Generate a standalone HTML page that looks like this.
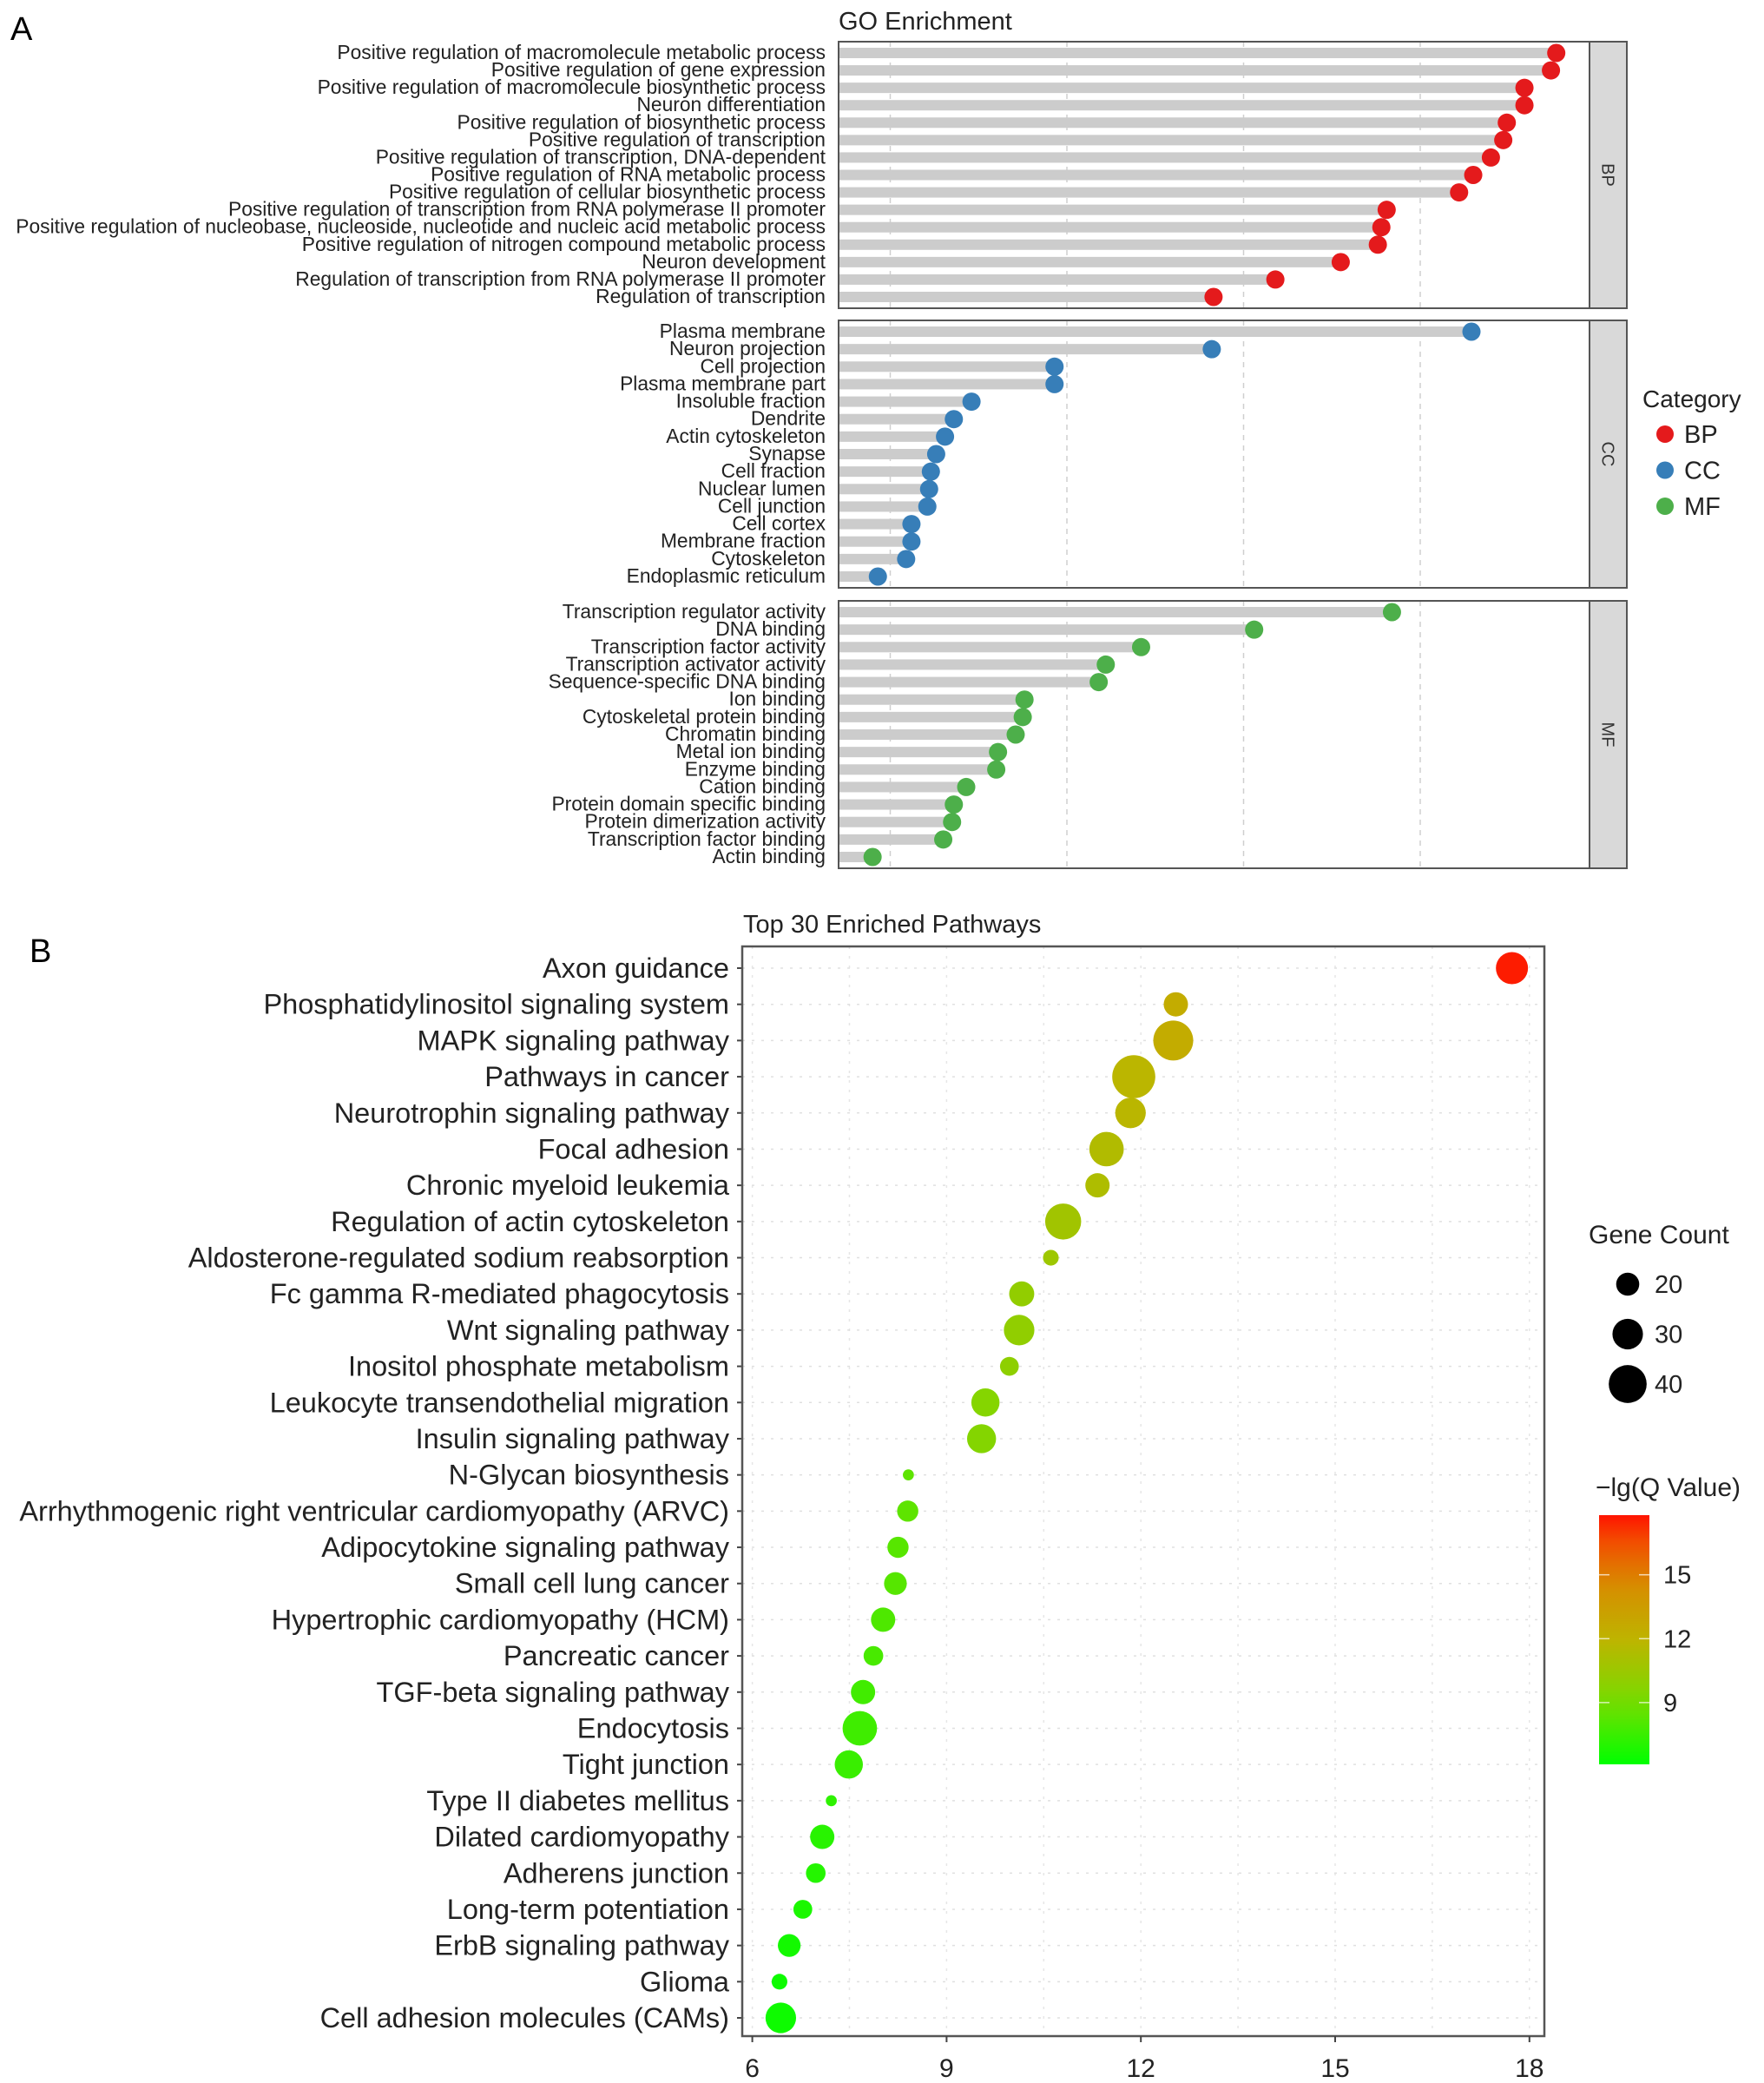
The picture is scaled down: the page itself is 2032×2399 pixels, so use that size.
<!DOCTYPE html>
<html><head><meta charset="utf-8"><style>
html,body{margin:0;padding:0;background:#fff;}
svg{display:block;font-family:"Liberation Sans",Arial,sans-serif;}
</style></head><body>
<svg id="fig" width="2032" height="2399" viewBox="0 0 2032 2399" xmlns="http://www.w3.org/2000/svg">
<text x="12" y="46" font-size="38">A</text>
<text x="966" y="34" font-size="29" fill="#222">GO Enrichment</text>
<text x="34" y="1108" font-size="38">B</text>
<text x="856" y="1074" font-size="29" fill="#222">Top 30 Enriched Pathways</text>
<g id="ga"></g>
<g id="gb"></g>
</svg>
<script>
// ---- Panel A data ----
const bpTerms=["Positive regulation of macromolecule metabolic process","Positive regulation of gene expression","Positive regulation of macromolecule biosynthetic process","Neuron differentiation","Positive regulation of biosynthetic process","Positive regulation of transcription","Positive regulation of transcription, DNA-dependent","Positive regulation of RNA metabolic process","Positive regulation of cellular biosynthetic process","Positive regulation of transcription from RNA polymerase II promoter","Positive regulation of nucleobase, nucleoside, nucleotide and nucleic acid metabolic process","Positive regulation of nitrogen compound metabolic process","Neuron development","Regulation of transcription from RNA polymerase II promoter","Regulation of transcription"];
const bpValues=[47.7,47.4,45.9,45.9,44.9,44.7,44.0,43.0,42.2,38.1,37.8,37.6,35.5,31.8,28.3];
const ccTerms=["Plasma membrane","Neuron projection","Cell projection","Plasma membrane part","Insoluble fraction","Dendrite","Actin cytoskeleton","Synapse","Cell fraction","Nuclear lumen","Cell junction","Cell cortex","Membrane fraction","Cytoskeleton","Endoplasmic reticulum"];
const ccValues=[42.9,28.2,19.3,19.3,14.6,13.6,13.1,12.6,12.3,12.2,12.1,11.2,11.2,10.9,9.3];
const mfTerms=["Transcription regulator activity","DNA binding","Transcription factor activity","Transcription activator activity","Sequence-specific DNA binding","Ion binding","Cytoskeletal protein binding","Chromatin binding","Metal ion binding","Enzyme binding","Cation binding","Protein domain specific binding","Protein dimerization activity","Transcription factor binding","Actin binding"];
const mfValues=[38.4,30.6,24.2,22.2,21.8,17.6,17.5,17.1,16.1,16.0,14.3,13.6,13.5,13.0,9.0];
const gridA=[10,20,30,40];
const catNames=["BP","CC","MF"];
const catColors=["#e41a1c","#377eb8","#4daf4a"];

// ---- Panel B data ----
const pathways=["Axon guidance","Phosphatidylinositol signaling system","MAPK signaling pathway","Pathways in cancer","Neurotrophin signaling pathway","Focal adhesion","Chronic myeloid leukemia","Regulation of actin cytoskeleton","Aldosterone-regulated sodium reabsorption","Fc gamma R-mediated phagocytosis","Wnt signaling pathway","Inositol phosphate metabolism","Leukocyte transendothelial migration","Insulin signaling pathway","N-Glycan biosynthesis","Arrhythmogenic right ventricular cardiomyopathy (ARVC)","Adipocytokine signaling pathway","Small cell lung cancer","Hypertrophic cardiomyopathy (HCM)","Pancreatic cancer","TGF-beta signaling pathway","Endocytosis","Tight junction","Type II diabetes mellitus","Dilated cardiomyopathy","Adherens junction","Long-term potentiation","ErbB signaling pathway","Glioma","Cell adhesion molecules (CAMs)"];
const enrichValues=[17.73,12.54,12.50,11.89,11.84,11.47,11.33,10.80,10.61,10.16,10.12,9.97,9.60,9.54,8.41,8.40,8.25,8.21,8.02,7.87,7.71,7.66,7.49,7.22,7.08,6.98,6.78,6.57,6.42,6.44];
const geneCounts=[30,20,40,44,28,33,20,35,9,21,28,13,25,26,3,16,16,18,20,14,20,33,25,3,20,14,13,18,9,28];
const qValues=[17.62,12.48,12.44,11.83,11.79,11.42,11.28,10.75,10.57,10.12,10.08,9.94,9.57,9.51,8.39,8.38,8.23,8.19,8.00,7.85,7.69,7.64,7.48,7.21,7.07,6.97,6.77,6.56,6.42,6.44];
const xTicksB=[6,9,12,15,18];
const sizeLegend=[20,30,40];
const colorTicks=[9,12,15];

const NS="http://www.w3.org/2000/svg";
function mk(parent,tag,attrs){const e=document.createElementNS(NS,tag);for(const k in attrs)e.setAttribute(k,attrs[k]);parent.appendChild(e);return e;}

// ---- Panel A ----
const ga=document.getElementById('ga');
const xA=v=>822+v*20.35;
const aLeft=966,aRight=1831,stripR=1874;
const panels=[{top:48,bot:355,terms:bpTerms,vals:bpValues},{top:369,bot:677,terms:ccTerms,vals:ccValues},{top:692,bot:1000,terms:mfTerms,vals:mfValues}];
panels.forEach((p,pi)=>{
  const g=mk(ga,'g',{});
  
  
  const bg=mk(g,'rect',{x:aLeft,y:p.top,width:aRight-aLeft,height:p.bot-p.top,fill:'#fff'});
  
  
  gridA.forEach(v=>{
    const l=mk(g,'line',{x1:xA(v),x2:xA(v),y1:p.top,y2:p.bot,stroke:'#cfcfcf','stroke-width':1.5,'stroke-dasharray':'6,6'});
    
    
  });
  const n=p.terms.length;
  const y0=p.top+13, step=(p.bot-p.top-26)/(n-1);
  p.terms.forEach((t,i)=>{
    const y=y0+i*step;
    const bar=mk(g,'rect',{x:aLeft,y:y-6,width:xA(p.vals[i])-aLeft,height:12,fill:'#cccccc'});
    
    
    const c=mk(g,'circle',{cx:xA(p.vals[i]),cy:y,r:10.5,fill:catColors[pi]});
    
    
    const tx=mk(g,'text',{x:951,y:y+7,'font-size':22.8,'text-anchor':'end',fill:'#222'});
    tx.textContent=t;
    
    
  });
  const fr=mk(g,'rect',{x:aLeft,y:p.top,width:aRight-aLeft,height:p.bot-p.top,fill:'none',stroke:'#555','stroke-width':2});
  
  
  const st=mk(g,'rect',{x:aRight,y:p.top,width:stripR-aRight,height:p.bot-p.top,fill:'#d9d9d9',stroke:'#555','stroke-width':2});
  
  
  const cy=(p.top+p.bot)/2, cx=(aRight+stripR)/2;
  const sl=mk(g,'text',{x:cx,y:cy,'font-size':20,'text-anchor':'middle',fill:'#333',transform:`rotate(90 ${cx} ${cy}) translate(0 7)`});
  sl.textContent=catNames[pi];
  
  
});
// category legend
const lg=mk(ga,'g',{});


const lt=mk(lg,'text',{x:1892,y:469,'font-size':28,fill:'#222'});
lt.textContent='Category';


catNames.forEach((c,i)=>{
  const y=500+i*41.5;
  const d=mk(lg,'circle',{cx:1918,cy:y,r:10,fill:catColors[i]});
  
  
  const t=mk(lg,'text',{x:1940,y:y+10,'font-size':29,fill:'#222'});
  t.textContent=c;
  
  
});

// ---- Panel B ----
const gb=document.getElementById('gb');
const bLeft=855,bRight=1779,bTop=1090,bBot=2345;
const xB=v=>866.6+(v-6)*74.6;
const yB=i=>1115+i*41.69;
const rB=c=>5+0.45*c;
const qMin=6.1,qMax=17.8;
const stops=[[0,[0,255,0]],[0.25,[120,220,0]],[0.5,[190,180,0]],[0.72,[215,140,0]],[0.88,[240,85,0]],[1,[255,20,0]]];
function qColor(q){let t=(q-qMin)/(qMax-qMin);t=Math.max(0,Math.min(1,t));
  for(let i=1;i<stops.length;i++){if(t<=stops[i][0]){const a=stops[i-1],b=stops[i],f=(t-a[0])/(b[0]-a[0]);
    const c=a[1].map((v,k)=>Math.round(v+(b[1][k]-v)*f));return `rgb(${c[0]},${c[1]},${c[2]})`;}}return 'rgb(255,20,0)';}
const pb=mk(gb,'rect',{x:bLeft,y:bTop,width:bRight-bLeft,height:bBot-bTop,fill:'#fff'});


for(let v=6;v<=18;v+=1.5){
  const l=mk(gb,'line',{x1:xB(v),x2:xB(v),y1:bTop,y2:bBot,stroke:'#e6e6e6','stroke-width':1.5,'stroke-dasharray':'3,8'});
  
  
}
pathways.forEach((p,i)=>{
  const l=mk(gb,'line',{x1:bLeft,x2:bRight,y1:yB(i),y2:yB(i),stroke:'#e0e0e0','stroke-width':1.5,'stroke-dasharray':'3,8'});
  
  
  const tk=mk(gb,'line',{x1:bLeft-6,x2:bLeft,y1:yB(i),y2:yB(i),stroke:'#444','stroke-width':2});
  
  
  const t=mk(gb,'text',{x:840,y:yB(i)+11,'font-size':32.5,'text-anchor':'end',fill:'#222'});
  t.textContent=p;
  
  
});
pathways.forEach((p,i)=>{
  const c=mk(gb,'circle',{cx:xB(enrichValues[i]),cy:yB(i),r:rB(geneCounts[i]),fill:qColor(qValues[i])});
  
  
});
const bf=mk(gb,'rect',{x:bLeft,y:bTop,width:bRight-bLeft,height:bBot-bTop,fill:'none',stroke:'#555','stroke-width':2.5});


xTicksB.forEach(v=>{
  const tk=mk(gb,'line',{x1:xB(v),x2:xB(v),y1:bBot,y2:bBot+7,stroke:'#444','stroke-width':2});
  
  
  const t=mk(gb,'text',{x:xB(v),y:2392,'font-size':30,'text-anchor':'middle',fill:'#222'});
  t.textContent=v;
  
  
});
// gene count legend
const sg=mk(gb,'g',{});


const st=mk(sg,'text',{x:1830,y:1432,'font-size':30,fill:'#222'});
st.textContent='Gene Count';


sizeLegend.forEach((c,i)=>{
  const y=1479+i*57.5;
  const d=mk(sg,'circle',{cx:1875,cy:y,r:rB(c)*0.95,fill:'#000'});
  
  
  const t=mk(sg,'text',{x:1906,y:y+10,'font-size':29,fill:'#222'});
  t.textContent=c;
  
  
});
// color legend
const cg=mk(gb,'g',{});


const defs=mk(cg,'defs',{});
const grad=mk(defs,'linearGradient',{id:'qgrad',x1:0,y1:1,x2:0,y2:0});
for(let k=0;k<=10;k++){mk(grad,'stop',{offset:k/10,'stop-color':qColor(qMin+(qMax-qMin)*k/10)});}
const ct=mk(cg,'text',{x:1838,y:1723,'font-size':30,fill:'#222'});
ct.textContent='\u2212lg(Q Value)';


const cbTop=1745,cbBot=2032;
const cb=mk(cg,'rect',{x:1842,y:cbTop,width:58,height:cbBot-cbTop,fill:'url(#qgrad)'});


const yC=v=>cbBot-(v-qMin)/(qMax-qMin)*(cbBot-cbTop);
colorTicks.forEach(v=>{
  [1842,1888].forEach(x=>{
    const m=mk(cg,'line',{x1:x,x2:x+12,y1:yC(v),y2:yC(v),stroke:'#fff','stroke-width':1.5,opacity:0.7});
    
    
  });
  const t=mk(cg,'text',{x:1916,y:yC(v)+10,'font-size':29,fill:'#222'});
  t.textContent=v;
  
  
});
</script>
</body></html>
